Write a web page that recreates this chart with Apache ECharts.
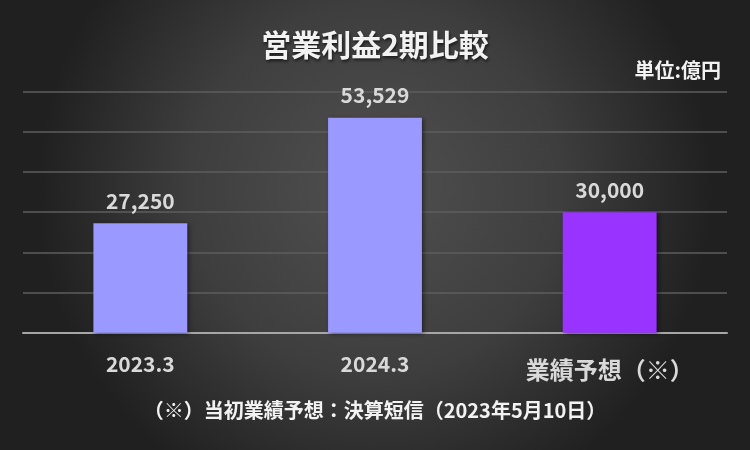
<!DOCTYPE html>
<html>
<head>
<meta charset="utf-8">
<script src="https://cdn.jsdelivr.net/npm/echarts@6/dist/echarts.min.js"></script>
<style>
html,body{margin:0;padding:0;width:750px;height:450px;overflow:hidden;}
#c{width:750px;height:450px;}
</style>
</head>
<body>
<div id="c"></div>
<script>
const title = '営業利益2期比較';
const unitLabel = '単位:億円';
const footnote = '（※）当初業績予想：決算短信（2023年5月10日）';
const categories = ['2023.3', '2024.3', '業績予想（※）'];
const values = [27250, 53529, 30000];
const barColors = ['#9999FF', '#9999FF', '#9933FF'];
const yMax = 60000;
const yInterval = 10000;

const FONT = '"Noto Sans CJK JP", "Noto Sans", sans-serif';
const chart = echarts.init(document.getElementById('c'), null, {renderer: 'canvas'});
chart.setOption({
  animation: false,
  backgroundColor: {
    type: 'radial', x: 0.5, y: 0.42, r: 0.75,
    colorStops: [
      {offset: 0, color: '#505050'},
      {offset: 0.55, color: '#3e3e3e'},
      {offset: 1, color: '#202020'}
    ]
  },
  title: {
    text: title,
    left: 'center',
    top: 25,
    textStyle: {
      color: '#f2f2f2', fontFamily: FONT, fontSize: 30, fontWeight: 'bold',
      textShadowColor: 'rgba(0,0,0,0.6)', textShadowBlur: 3, textShadowOffsetX: 1, textShadowOffsetY: 2
    }
  },
  graphic: [
    {
      type: 'text', right: 29, top: 60,
      style: {text: unitLabel, fill: '#f2f2f2', font: 'bold 20px ' + FONT}
    },
    {
      type: 'text', left: 'center', top: 400,
      style: {text: footnote, fill: '#f2f2f2', font: 'bold 20px ' + FONT}
    }
  ],
  grid: {left: 23, right: 23, top: 91.7, bottom: 117.3, containLabel: false},
  xAxis: {
    type: 'category',
    data: categories,
    axisLine: {lineStyle: {color: '#a6a6a6', width: 2}},
    axisTick: {show: false},
    axisLabel: {
      interval: 0,
      margin: 21,
      color: '#d9d9d9',
      fontFamily: FONT,
      fontSize: 21,
      fontWeight: 'bold',
      formatter: function (v, i) { return i === 2 ? '{big|' + v + '}' : v; },
      rich: {
        big: {fontSize: 24, fontWeight: 'bold', color: '#d9d9d9', fontFamily: FONT, padding: [4, 0, 0, 0]}
      }
    }
  },
  yAxis: {
    type: 'value',
    min: 0, max: yMax, interval: yInterval,
    axisLabel: {show: false},
    axisLine: {show: false},
    axisTick: {show: false},
    splitLine: {lineStyle: {color: '#5e5e5e', width: 1.5}}
  },
  series: [{
    type: 'bar',
    barWidth: '40%',
    data: values.map((v, i) => ({value: v, itemStyle: {color: barColors[i]}})),
    itemStyle: {shadowColor: 'rgba(0,0,0,0.45)', shadowBlur: 4, shadowOffsetX: 2, shadowOffsetY: 1},
    label: {
      show: true, position: 'top', distance: 12,
      color: '#d9d9d9', fontFamily: FONT, fontSize: 21, fontWeight: 'bold',
      formatter: p => p.value.toLocaleString('en-US')
    }
  }]
});
</script>
</body>
</html>
